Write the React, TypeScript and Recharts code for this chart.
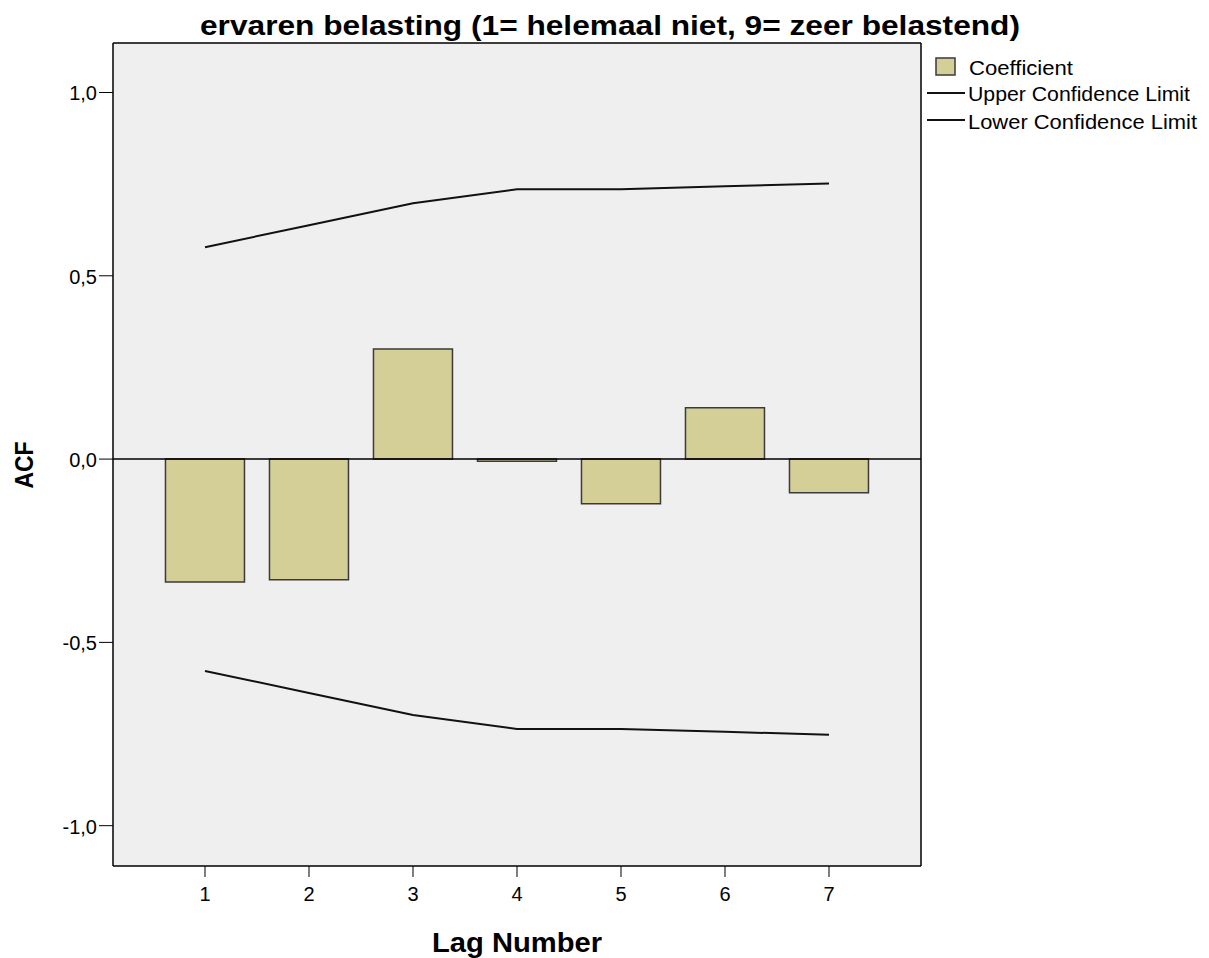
import { ComposedChart, Bar, Line, XAxis, YAxis, CartesianGrid, ReferenceLine } from "recharts"

const lags = [1, 2, 3, 4, 5, 6, 7]
const coefficient = [-0.335, -0.329, 0.3, -0.006, -0.122, 0.14, -0.092]
const upperLimit = [0.578, 0.638, 0.698, 0.736, 0.736, 0.744, 0.752]
const lowerLimit = [-0.578, -0.638, -0.698, -0.736, -0.736, -0.744, -0.752]
const yTicks = [-1, -0.5, 0, 0.5, 1]

const data = lags.map((lag, i) => ({
  lag,
  coef: coefficient[i],
  upper: upperLimit[i],
  lower: lowerLimit[i],
}))

const font = "'Liberation Sans', Arial, sans-serif"
const barFill = "#d3cf97"

const fmt = (v: number) => v.toFixed(1).replace(".", ",")

// plain tick text so the font size sticks
const XTick = ({ x, y, payload }: any) => (
  <text x={x} y={y} dy={20} textAnchor="middle" fontFamily={font} fontSize={20} fill="#000">
    {payload.value}
  </text>
)

const YTick = ({ x, y, payload }: any) => (
  <text x={x} y={y} dy={8} textAnchor="end" fontFamily={font} fontSize={20} fill="#000">
    {fmt(payload.value)}
  </text>
)

export default function App() {
  return (
    <div style={{ position: "absolute", left: 0, top: 0, width: 1209, height: 958, background: "#fff" }}>
      <ComposedChart
        width={1209}
        height={958}
        data={data}
        margin={{ top: 42, right: 287, bottom: 62, left: 13 }}
        barCategoryGap="12%"
      >
        <CartesianGrid fill="#efefef" horizontal={false} vertical={false} />
        <XAxis
          dataKey="lag"
          padding={{ left: 40, right: 40 }}
          height={30}
          tickSize={11}
          tickMargin={4}
          stroke="#000"
          tick={<XTick />}
          axisLine={{ stroke: "#000", strokeWidth: 1.5 }}
        />
        <XAxis xAxisId="top" dataKey="lag" orientation="top" height={1} tick={false} tickLine={false}
          padding={{ left: 40, right: 40 }} stroke="#000" axisLine={{ stroke: "#000", strokeWidth: 1.5 }} />
        <YAxis
          domain={[-1.11, 1.135]}
          ticks={yTicks}
          width={100}
          tickSize={14}
          tickMargin={2}
          stroke="#000"
          tick={<YTick />}
          axisLine={{ stroke: "#000", strokeWidth: 1.5 }}
          allowDataOverflow
        />
        <YAxis yAxisId="right" orientation="right" width={1} domain={[-1.11, 1.135]} tick={false} tickLine={false}
          stroke="#000" axisLine={{ stroke: "#000", strokeWidth: 1.5 }} />
        <ReferenceLine y={0} stroke="#000" strokeWidth={1.5} />
        <Bar dataKey="coef" fill={barFill} stroke="#3a3a3a" strokeWidth={1.5} isAnimationActive={false} />
        <Line dataKey="upper" type="linear" stroke="#111" strokeWidth={2} dot={false} isAnimationActive={false} />
        <Line dataKey="lower" type="linear" stroke="#111" strokeWidth={2} dot={false} isAnimationActive={false} />
      </ComposedChart>

      <svg width={1209} height={958} style={{ position: "absolute", left: 0, top: 0, pointerEvents: "none" }}>
        <text x={610} y={35} textAnchor="middle" fontFamily={font} fontWeight="bold" fontSize={28}
          textLength={820} lengthAdjust="spacingAndGlyphs">
          ervaren belasting (1= helemaal niet, 9= zeer belastend)
        </text>
        <text x={517} y={952} textAnchor="middle" fontFamily={font} fontWeight="bold" fontSize={28}
          textLength={170} lengthAdjust="spacingAndGlyphs">
          Lag Number
        </text>
        <text transform="translate(33,465) rotate(-90)" textAnchor="middle" fontFamily={font} fontWeight="bold"
          fontSize={26} textLength={47} lengthAdjust="spacingAndGlyphs">
          ACF
        </text>

        <rect x={936} y={58} width={19} height={17} fill={barFill} stroke="#3a3a3a" strokeWidth={1.5} />
        <text x={969} y={75} fontFamily={font} fontSize={20} textLength={104} lengthAdjust="spacingAndGlyphs">
          Coefficient
        </text>
        <line x1={927} x2={965} y1={93} y2={93} stroke="#111" strokeWidth={2} />
        <text x={968} y={101} fontFamily={font} fontSize={20} textLength={222} lengthAdjust="spacingAndGlyphs">
          Upper Confidence Limit
        </text>
        <line x1={927} x2={965} y1={120} y2={120} stroke="#111" strokeWidth={2} />
        <text x={968} y={129} fontFamily={font} fontSize={20} textLength={229} lengthAdjust="spacingAndGlyphs">
          Lower Confidence Limit
        </text>
      </svg>
    </div>
  )
}
